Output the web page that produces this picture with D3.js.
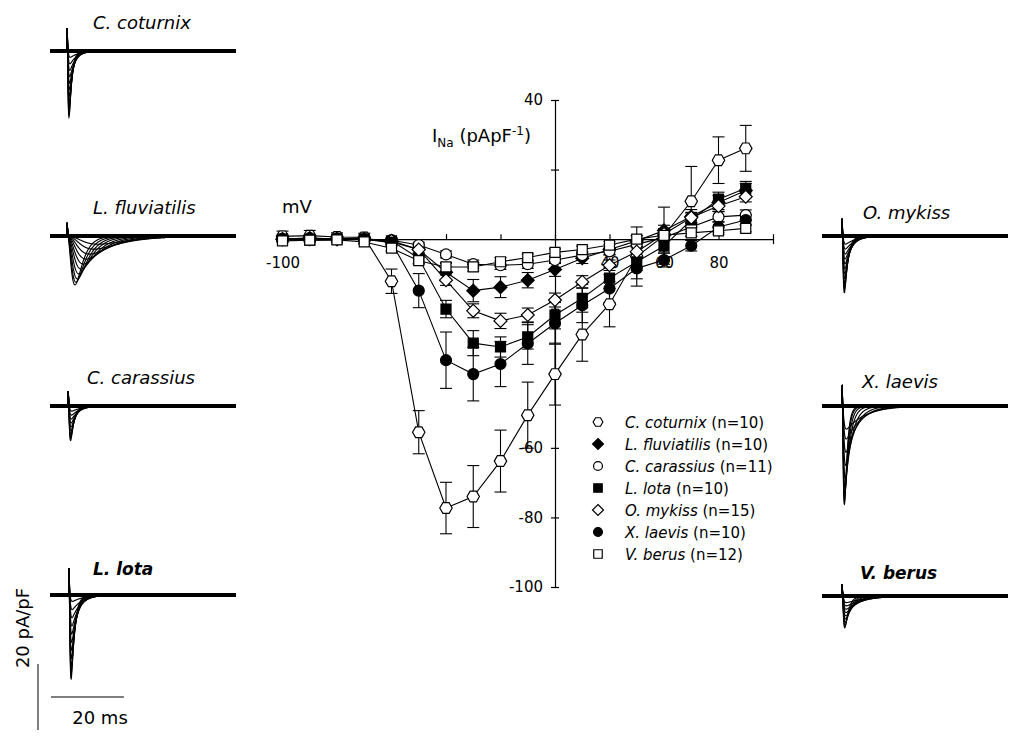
<!DOCTYPE html>
<html><head><meta charset="utf-8">
<script src="https://cdn.jsdelivr.net/npm/d3@7"></script>
<style>body{margin:0;background:#fff}svg{display:block}</style>
</head><body>
<svg id="c" width="1024" height="745"></svg>
<script>
// ---------------- I-V data ----------------
const voltages = [-100,-90,-80,-70,-60,-50,-40,-30,-20,-10,0,10,20,30,40,50,60,70];
const speciesLabels = ["C. coturnix","L. fluviatilis","C. carassius","L. lota","O. mykiss","X. laevis","V. berus"];
const speciesN = [10,10,11,10,15,10,12];

const coturnixMean = [0.8,1.0,0.6,0.5,-12.1,-55.5,-77.3,-74.0,-63.8,-50.6,-38.8,-27.4,-18.7,-5.0,1.0,10.9,22.7,26.1];
const coturnixSE   = [1.5,1.5,1.2,1.2,3.5,6.2,7.4,8.9,8.9,9.5,8.9,7.7,6.5,8.5,8.2,10.0,6.7,6.6];
const fluviatilisMean = [0,0.3,0,0,-0.8,-3.0,-9.5,-14.8,-13.8,-11.8,-8.7,-5.5,-3.0,-0.5,2.5,6.5,10.5,14.0];
const fluviatilisSE   = [0.5,0.5,0.5,0.5,0.8,1.5,2.5,3.2,3.0,2.2,2.0,1.5,1.5,1.5,1.5,2.0,2.0,2.0];
const carassiusMean = [0,0,0.2,0,-0.3,-1.7,-4.4,-7.2,-7.5,-7.2,-6.0,-4.6,-3.5,-1.5,0.5,3.5,6.4,6.9];
const carassiusSE   = [0.5,0.5,0.5,0.5,0.5,0.8,1.0,1.2,1.2,1.2,1.0,1.0,1.0,1.0,1.0,1.2,1.5,1.5];
const lotaMean = [0,-0.3,0,0,-0.5,-5.5,-20.1,-29.9,-31.0,-28.1,-21.8,-17.0,-11.2,-6.5,-2.0,5.5,11.5,14.6];
const lotaSE   = [0.5,0.5,0.5,0.5,0.8,1.5,2.5,3.6,2.9,3.5,4.0,4.0,3.0,2.5,2.0,2.0,2.0,2.0];
const mykissMean = [0,0,0,0,-0.5,-3.0,-11.8,-20.6,-23.5,-21.8,-17.5,-12.3,-7.5,-3.6,1.5,6.2,9.5,12.2];
const mykissSE   = [0.5,0.5,0.5,0.5,0.8,1.0,1.5,2.0,2.2,2.0,2.0,1.8,1.5,1.5,1.5,1.5,1.5,1.5];
const laevisMean = [0,0.3,0,0,-1.0,-14.8,-34.8,-38.8,-35.9,-30.0,-24.2,-19.0,-14.2,-8.4,-6.0,-1.9,3.5,5.5];
const laevisSE   = [0.5,0.5,0.5,0.5,1.0,4.9,8.1,7.7,6.5,6.0,6.0,5.0,4.0,3.0,2.0,1.5,1.5,1.5];
const berusMean = [-0.5,-0.3,-0.2,-0.8,-2.6,-6.2,-8.0,-8.0,-6.5,-5.3,-3.8,-3.0,-1.7,0,1.1,1.8,2.4,3.1];
const berusSE   = [0.5,0.5,0.5,0.5,0.8,1.0,1.2,1.2,1.2,1.0,1.0,1.0,1.0,1.0,1.0,1.0,1.0,1.0];

const seriesMeans = [coturnixMean,fluviatilisMean,carassiusMean,lotaMean,mykissMean,laevisMean,berusMean];
const seriesSE = [coturnixSE,fluviatilisSE,carassiusSE,lotaSE,mykissSE,laevisSE,berusSE];
const markerShape = ["hexagon","diamond","circle","square","diamond","circle","square"];
const markerFilled = [false,true,false,true,false,true,false];

const xTickValues = [-100,-80,-60,-40,-20,0,20,40,60,80];
const xTickText   = ["-100","","","","","","40","60","80",""];
const yTickValues = [40,20,0,-20,-40,-60,-80,-100];
const yTickText   = ["40","","","","","-60","-80","-100"];

// ---------------- example current traces ----------------
const traceSpecies = ["C. coturnix","L. fluviatilis","C. carassius","L. lota","O. mykiss","X. laevis","V. berus"];
const tracePeaks = [
  [20.5,19.5,18,16,14,12,10,8,6,4,2],
  [14.8,14,13,11.5,10,8.5,7,5.5,4,2.5],
  [10.6,9.8,8.8,7.6,6.4,5.2,4,2.8,1.6],
  [25.8,24,22,19.5,17,14.5,12,9.5,7,4.5,2],
  [17.3,16,14.5,13,11.5,10,8.5,7,5.5,4,2.5],
  [30,29,27,25,22,18,14,10,7],
  [9.7,9,8,7,6,5,4,3,2]
];
const traceRiseTau = [
  [0.2,0.2,0.2,0.2,0.2,0.2,0.2,0.2,0.2,0.2,0.2],
  [1.2,1.3,1.5,1.7,2.0,2.3,2.7,3.2,3.8,4.5],
  [0.25,0.25,0.25,0.25,0.25,0.25,0.25,0.25,0.25],
  [0.22,0.22,0.22,0.22,0.22,0.22,0.22,0.22,0.22,0.22,0.22],
  [0.25,0.25,0.25,0.25,0.25,0.25,0.25,0.25,0.25,0.25,0.25],
  [0.3,0.3,0.3,0.3,0.3,0.3,0.3,0.3,0.3],
  [0.3,0.3,0.3,0.3,0.3,0.3,0.3,0.3,0.3]
];
const traceDecayTau = [
  [0.7,0.75,0.8,0.9,1.0,1.1,1.3,1.5,1.7,2.0,2.4],
  [2.0,2.4,2.8,3.3,3.9,4.6,5.4,6.3,7.5,8.5],
  [0.9,1.0,1.1,1.3,1.5,1.7,2.0,2.4,2.8],
  [0.9,1.0,1.1,1.2,1.4,1.6,1.8,2.1,2.4,2.8,3.2],
  [0.9,1.0,1.1,1.2,1.4,1.6,1.8,2.0,2.3,2.6,3.0],
  [0.7,0.8,1.0,1.3,1.8,2.5,3.3,4.2,5.2],
  [1.0,1.3,1.7,2.2,2.8,3.5,4.3,5.0,6.0]
];
const traceSpike = [7, 4, 4.5, 8.2, 5.2, 6.4, 3.6];   // capacitive transient, pA/pF
const traceOnset = [4.7, 4.7, 5.0, 5.2, 5.5, 5.5, 5.5]; // ms
const traceDuration = 51; // ms
const scaleBarCurrent = 20; // pA/pF
const scaleBarTime = 20;    // ms

// layout (positions only)
const traceLayout = [
  {x:50, y:51,  lx:93,  ly:28.5, bold:false, fs:18},
  {x:50, y:236, lx:93,  ly:213.5, bold:false, fs:18},
  {x:50, y:406, lx:87,  ly:383.5, bold:false, fs:18},
  {x:50, y:595, lx:93,  ly:574.5, bold:true,  fs:17},
  {x:822,y:236, lx:863, ly:218.5, bold:false, fs:18},
  {x:822,y:406, lx:862, ly:387.5, bold:false, fs:18},
  {x:822,y:596, lx:860, ly:578.5, bold:true,  fs:17}
];

const FONT = '"DejaVu Sans", "Liberation Sans", Arial, sans-serif';
const svg = d3.select("#c");

// ---------------- I-V plot ----------------
const x = d3.scaleLinear().domain([-100, 80]).range([282.5, 773]);
const y = d3.scaleLinear().domain([-100, 40]).range([587, 100]);

const gx = svg.append("g").attr("transform", `translate(0,${y(0)})`)
  .call(d3.axisBottom(x).tickValues(xTickValues).tickSizeInner(-5).tickSizeOuter(0)
        .tickPadding(18).tickFormat((d,i)=>xTickText[i]));
gx.attr("font-family", FONT).attr("font-size", 15);
gx.select(".domain").attr("stroke","#000").attr("stroke-width",1.2);
gx.selectAll(".tick line").attr("stroke","#000").attr("stroke-width",1.2)
  .filter(d => d === 80).attr("y1", 5);
gx.selectAll(".tick text").attr("fill","#000");

const gy = svg.append("g").attr("transform", `translate(${x(0)},0)`)
  .call(d3.axisLeft(y).tickValues(yTickValues).tickSizeInner(4).tickSizeOuter(0)
        .tickPadding(8).tickFormat((d,i)=>yTickText[i]));
gy.attr("font-family", FONT).attr("font-size", 15);
gy.select(".domain").attr("stroke","#000").attr("stroke-width",1.2);
gy.selectAll(".tick line").attr("stroke","#000").attr("stroke-width",1.2).attr("x1", 4);
gy.selectAll(".tick text").attr("fill","#000");

// axis titles
svg.append("text").attr("x", 282).attr("y", 213).attr("font-family", FONT)
  .attr("font-size", 18).text("mV");
const yt = svg.append("text").attr("x", 432).attr("y", 142).attr("font-family", FONT).attr("font-size", 18);
yt.append("tspan").text("I");
yt.append("tspan").attr("font-size", 12).attr("dy", 5).text("Na");
yt.append("tspan").attr("dy", -5).text(" (pApF");
yt.append("tspan").attr("font-size", 12).attr("dy", -7).text("-1");
yt.append("tspan").attr("dy", 7).text(")");

// symbol types
const symHexagon = { draw(ctx, size) {
  const r = Math.sqrt(size / (1.5 * Math.sqrt(3)));
  for (let i = 0; i < 6; i++) {
    const a = i * Math.PI / 3;
    const px = r * Math.cos(a), py = r * Math.sin(a);
    if (i === 0) ctx.moveTo(px, py); else ctx.lineTo(px, py);
  }
  ctx.closePath();
}};
const symDiamond = { draw(ctx, size) {
  const r = Math.sqrt(size / 2);
  ctx.moveTo(0,-r); ctx.lineTo(r,0); ctx.lineTo(0,r); ctx.lineTo(-r,0); ctx.closePath();
}};
const symType = {hexagon: symHexagon, diamond: symDiamond, circle: d3.symbolCircle, square: d3.symbolSquare};
const symSize = {hexagon: 100, diamond: 84, circle: 95, square: 100};
const legSize = {hexagon: 62, diamond: 60, circle: 62, square: 72};

const line = d3.line().x((d,i)=>x(voltages[i])).y(d=>y(d));
const plot = svg.append("g");

// connecting lines
seriesMeans.forEach(m => {
  plot.append("path").attr("d", line(m)).attr("fill","none")
    .attr("stroke","#000").attr("stroke-width",1.1);
});
// error bars
seriesMeans.forEach((m, s) => {
  const g = plot.append("g").attr("stroke","#000").attr("stroke-width",1.1);
  m.forEach((v, i) => {
    const e = seriesSE[s][i];
    const cx = x(voltages[i]);
    g.append("line").attr("x1",cx).attr("x2",cx).attr("y1",y(v-e)).attr("y2",y(v+e));
    g.append("line").attr("x1",cx-6).attr("x2",cx+6).attr("y1",y(v-e)).attr("y2",y(v-e));
    g.append("line").attr("x1",cx-6).attr("x2",cx+6).attr("y1",y(v+e)).attr("y2",y(v+e));
  });
});
// markers
seriesMeans.forEach((m, s) => {
  const sym = d3.symbol().type(symType[markerShape[s]]).size(symSize[markerShape[s]]);
  plot.append("g").selectAll("path").data(m).join("path")
    .attr("transform", (d,i)=>`translate(${x(voltages[i])},${y(d)})`)
    .attr("d", sym())
    .attr("fill", markerFilled[s] ? "#000" : "#fff")
    .attr("stroke","#000").attr("stroke-width",1.2);
});

// legend
const leg = svg.append("g").attr("font-family", FONT).attr("font-size", 15);
speciesLabels.forEach((name, s) => {
  const ry = 422 + s * 22;
  leg.append("path").attr("transform", `translate(598,${ry})`)
    .attr("d", d3.symbol().type(symType[markerShape[s]]).size(legSize[markerShape[s]])())
    .attr("fill", markerFilled[s] ? "#000" : "#fff").attr("stroke","#000").attr("stroke-width",1.2);
  const t = leg.append("text").attr("x", 625).attr("y", ry + 5.5);
  t.append("tspan").attr("font-style","italic").text(name);
  t.append("tspan").text(` (n=${speciesN[s]})`);
});

// ---------------- traces ----------------
function peakNorm(tm, th) {
  const s = tm * Math.log((3 * th + tm) / tm);
  return Math.pow(1 - Math.exp(-s / tm), 3) * Math.exp(-s / th);
}
const tSamples = d3.range(0, traceDuration + 0.0001, 0.05);

traceSpecies.forEach((name, p) => {
  const L = traceLayout[p];
  const tx = d3.scaleLinear().domain([0, traceDuration]).range([L.x, L.x + 186]);
  const ty = d3.scaleLinear().domain([0, -scaleBarCurrent]).range([L.y, L.y + 66]);
  const g = svg.append("g");
  // noisy baseline
  g.append("line").attr("x1", tx(0)).attr("x2", tx(traceDuration))
    .attr("y1", ty(0)).attr("y2", ty(0)).attr("stroke","#000").attr("stroke-width",4);
  const t0 = traceOnset[p];
  tracePeaks[p].forEach((A, k) => {
    const tm = traceRiseTau[p][k], th = traceDecayTau[p][k];
    const nrm = peakNorm(tm, th);
    const S = traceSpike[p];
    const pts = tSamples.map(t => {
      if (t < t0) return [t, 0];
      const s = t - t0;
      const v = S * Math.exp(-s / 0.18) - A * Math.pow(1 - Math.exp(-s / tm), 3) * Math.exp(-s / th) / nrm;
      return [t, v];
    });
    g.append("path").attr("d", d3.line().x(d=>tx(d[0])).y(d=>ty(d[1]))(pts))
      .attr("fill","none").attr("stroke","#000").attr("stroke-width",1.15);
  });
  svg.append("text").attr("x", L.lx).attr("y", L.ly).attr("font-family", FONT)
    .attr("font-size", L.fs).attr("font-style","italic")
    .attr("font-weight", L.bold ? "bold" : "normal").text(name);
});

// scale bars
{
  const tx = d3.scaleLinear().domain([0, traceDuration]).range([51, 51 + 186]);
  const ty = d3.scaleLinear().domain([0, -scaleBarCurrent]).range([664, 664 + 66]);
  svg.append("line").attr("x1", 38).attr("x2", 38).attr("y1", ty(0)).attr("y2", ty(-scaleBarCurrent))
    .attr("stroke","#555").attr("stroke-width",1.5);
  svg.append("line").attr("x1", tx(0)).attr("x2", tx(scaleBarTime)).attr("y1", 697).attr("y2", 697)
    .attr("stroke","#555").attr("stroke-width",1.5);
  svg.append("text").attr("transform","translate(29,628) rotate(-90)").attr("text-anchor","middle")
    .attr("font-family", FONT).attr("font-size", 18).text(`${scaleBarCurrent} pA/pF`);
  svg.append("text").attr("x", 100).attr("y", 724).attr("text-anchor","middle")
    .attr("font-family", FONT).attr("font-size", 18).text(`${scaleBarTime} ms`);
}
</script>
</body></html>
